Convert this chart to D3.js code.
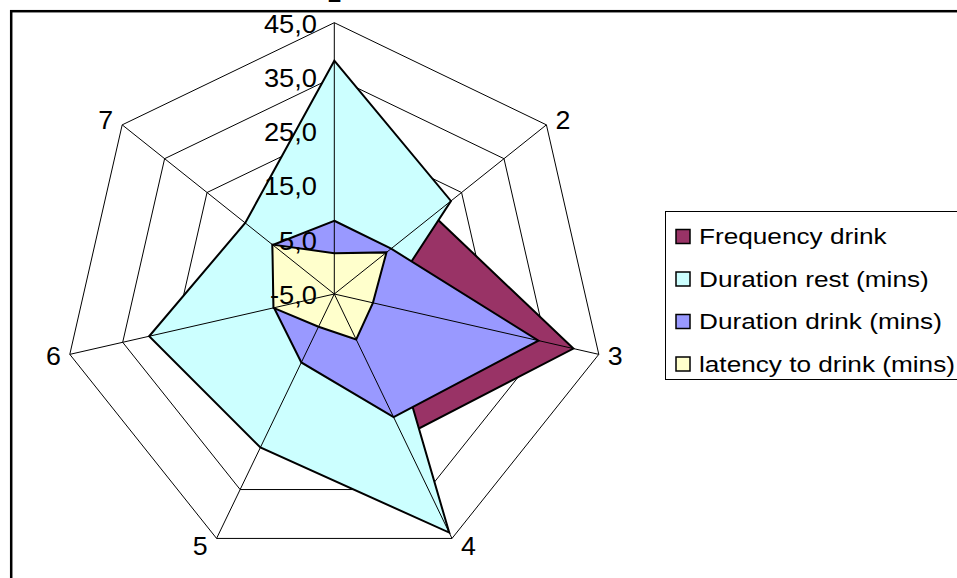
<!DOCTYPE html>
<html>
<head>
<meta charset="utf-8">
<script src="https://cdn.jsdelivr.net/npm/d3@7/dist/d3.min.js"></script>
<style>
  html, body { margin: 0; padding: 0; background: #fff; }
  svg { display: block; }
  text { font-family: Arial, "Liberation Sans", sans-serif; fill: #000; }
</style>
</head>
<body>
<svg id="chart" width="957" height="578"></svg>
<script>
// Radar axes (clockwise from the top)
const categories = ["1", "2", "3", "4", "5", "6", "7"];

// Series values, one per axis
const frequencyDrink = [3, 18.3, 40.2, 24.2, 3, 4, 3];
const durationRest   = [38, 22.5, 4.2, 43.8, 26.4, 30, 16];
const durationDrink  = [8.5, 8.4, 33.6, 20.2, 9, 6.4, 9.5];
const latencyDrink   = [2.5, 7.3, 2.3, 4.3, 1.7, 6.5, 9.6];

const seriesNames  = ["Frequency drink", "Duration rest (mins)", "Duration drink (mins)", "latency to drink (mins)"];
const seriesColors = ["#993366", "#CCFFFF", "#9999FF", "#FFFFCC"];

// Ring values and their labels
const ringValues = [-5, 5, 15, 25, 35, 45];
const ringLabels = ["-5,0", "5,0", "15,0", "25,0", "35,0", "45,0"];

const series = [frequencyDrink, durationRest, durationDrink, latencyDrink].map((v, i) => ({
  name: seriesNames[i], color: seriesColors[i], values: v
}));

const svg = d3.select("#chart");
const cx = 334.3, cy = 294;

const r = d3.scaleLinear().domain([-5, 45]).range([0, 271.3]);
const angle = d3.scalePoint().domain(categories).range([0, 2 * Math.PI * (categories.length - 1) / categories.length]);

const pt = (cat, v) => {
  const a = angle(cat), rr = r(v);
  return [cx + rr * Math.sin(a), cy - rr * Math.cos(a)];
};

// Outer frame of the chart area
svg.append("rect")
  .attr("x", 11.2).attr("y", 11.2)
  .attr("width", 1200).attr("height", 1200)
  .attr("fill", "none").attr("stroke", "#000").attr("stroke-width", 2.5);

const line = d3.line().curve(d3.curveLinearClosed);

// Grid rings
svg.append("g").selectAll("path")
  .data(ringValues.filter(v => v > -5))
  .join("path")
  .attr("d", v => line(categories.map(c => pt(c, v))))
  .attr("fill", "none").attr("stroke", "#000").attr("stroke-width", 1);

// Series areas, in drawing order
svg.append("g").selectAll("path")
  .data(series)
  .join("path")
  .attr("d", s => line(categories.map((c, i) => pt(c, s.values[i]))))
  .attr("fill", s => s.color)
  .attr("stroke", "#000").attr("stroke-width", 2)
  .attr("stroke-linejoin", "miter");

// Spokes
svg.append("g").selectAll("line")
  .data(categories)
  .join("line")
  .attr("x1", cx).attr("y1", cy)
  .attr("x2", c => pt(c, 45)[0]).attr("y2", c => pt(c, 45)[1])
  .attr("stroke", "#000").attr("stroke-width", 1);

// Value labels along the first axis
svg.append("g").selectAll("text")
  .data(ringValues)
  .join("text")
  .attr("transform", (v) => `translate(317,${pt(categories[0], v)[1] + 10}) scale(1.07,1)`)
  .attr("text-anchor", "end")
  .attr("font-size", 25.5)
  .text((v, i) => ringLabels[i]);

// Axis labels
svg.append("g").selectAll("text")
  .data(categories)
  .join("text")
  .each(function (c) {
    const a = angle(c);
    const [x, y] = pt(c, 45);
    const s = Math.sin(a), co = Math.cos(a);
    let anchor = "middle", tx = x, ty;
    if (s > 0.1) { anchor = "start"; tx = x + 9; }
    else if (s < -0.1) { anchor = "end"; tx = x - 9; }
    if (Math.abs(s) <= 0.1) ty = y - 21;
    else ty = y - 8 * co + 9;
    d3.select(this)
      .attr("transform", `translate(${tx},${ty}) scale(1.05,1)`)
      .attr("text-anchor", anchor)
      .attr("font-size", 25.5)
      .text(c);
  });

// Legend
const legend = svg.append("g");
legend.append("rect")
  .attr("x", 665.5).attr("y", 211.5)
  .attr("width", 400).attr("height", 168)
  .attr("fill", "#fff").attr("stroke", "#000").attr("stroke-width", 1);

const rowY = d3.scalePoint().domain(seriesNames).range([236.5, 364]);
const items = legend.selectAll("g.item").data(series).join("g").attr("class", "item");
items.append("rect")
  .attr("x", 676).attr("y", s => rowY(s.name) - 7)
  .attr("width", 14).attr("height", 14)
  .attr("fill", s => s.color)
  .attr("stroke", "#000").attr("stroke-width", 1.5);
items.append("text")
  .attr("transform", s => `translate(699,${rowY(s.name) + 7.5}) scale(1.19,1)`)
  .attr("font-size", 22)
  .text(s => s.name);
</script>
</body>
</html>
